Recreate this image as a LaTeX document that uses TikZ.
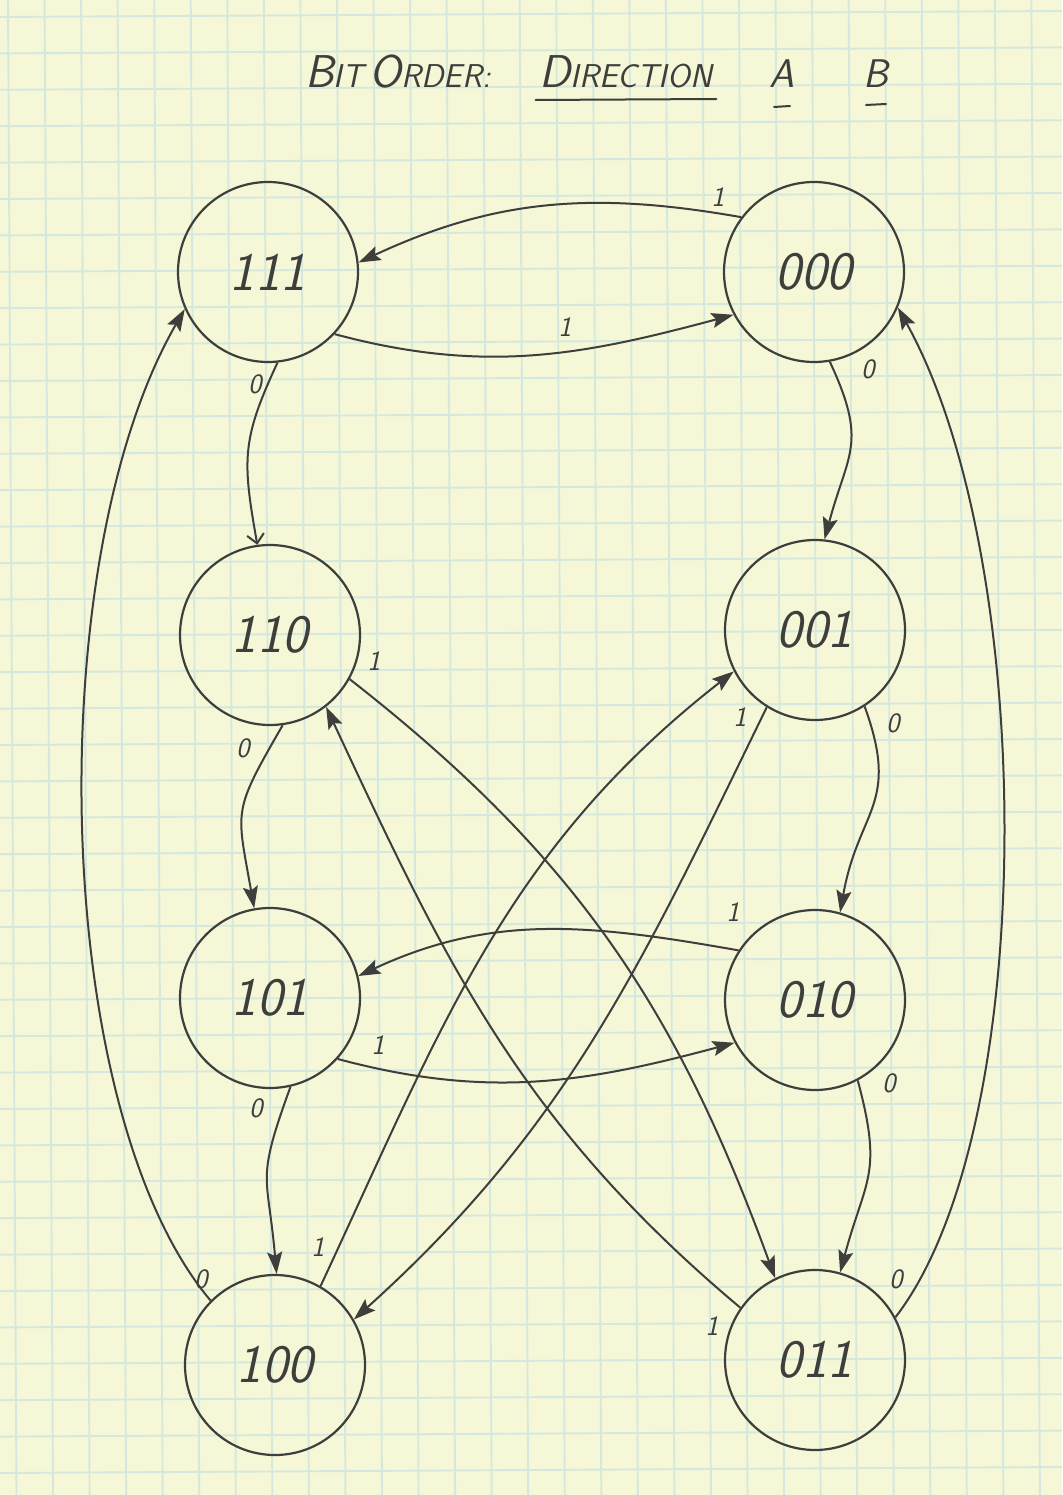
\documentclass[tikz,border=0pt]{standalone}
\usetikzlibrary{arrows.meta}
\definecolor{paper}{RGB}{245,247,214}
\definecolor{gridline}{RGB}{212,232,222}
\definecolor{pencil}{RGB}{62,62,60}
% hand-lettered caps: larger first letter, smaller rest
\newcommand\bigsmall[2]{{\fontsize{46}{46}\selectfont #1}{\fontsize{33}{33}\selectfont #2}}
\begin{document}
\begin{tikzpicture}[x=1pt,y=1pt,
  state/.style={circle,draw=pencil,line width=2.2pt,minimum size=180pt,inner sep=0pt,
    font=\fontsize{54}{54}\selectfont\sffamily\itshape,text=pencil},
  trans/.style={draw=pencil,line width=2pt,-{Stealth[length=22pt,width=15pt,inset=4pt]}},
  opentrans/.style={draw=pencil,line width=2pt,-{Straight Barb[length=9pt,width=17pt]}},
  lbl/.style={font=\fontsize{28}{28}\selectfont\sffamily\itshape,text=pencil,inner sep=0pt},
  ttl/.style={font=\fontsize{33}{33}\selectfont\sffamily\itshape,text=pencil,inner sep=0pt,anchor=base},
  uline/.style={draw=pencil,line width=2pt,line cap=round}]

% paper and grid
\useasboundingbox (0,-1495) rectangle (1062,0);
\fill[paper] (0,-1495) rectangle (1062,0);
\foreach \k in {0,...,29}
  \draw[gridline,line width=1.9pt] ({8+36.55*\k},0) -- ({16.5+36.55*\k},-1495);
\foreach \j in {0,...,41}
  \draw[gridline,line width=1.9pt] (0,{-(17+36.4*\j)}) -- (1062,{-(11+36.4*\j)});

% heading
\node[ttl] (hbit) at (398,-88) {\bigsmall{B}{IT}\hspace{6pt}\bigsmall{O}{RDER}:};
\node[ttl] (hdir) at (626,-88) {\bigsmall{D}{IRECTION}};
\node[ttl,font=\fontsize{40}{40}\selectfont\sffamily\itshape] (ha) at (782,-88) {A};
\node[ttl,font=\fontsize{40}{40}\selectfont\sffamily\itshape] (hb) at (876,-88) {B};
\draw[uline] ([xshift=-4pt,yshift=-12pt]hdir.base west) -- ([xshift=4pt,yshift=-11pt]hdir.base east);
\draw[uline] ([xshift=-8pt,yshift=-19pt]ha.base) -- ([xshift=8pt,yshift=-18pt]ha.base);
\draw[uline] ([xshift=-10pt,yshift=-17pt]hb.base) -- ([xshift=10pt,yshift=-16pt]hb.base);

% states
\node[state] (n111) at (268,-272)  {111};
\node[state] (n000) at (814,-272)  {000};
\node[state] (n110) at (270,-635)  {110};
\node[state] (n001) at (815,-630)  {001};
\node[state] (n101) at (270,-998)  {101};
\node[state] (n010) at (815,-1000) {010};
\node[state] (n100) at (275,-1365) {100};
\node[state] (n011) at (815,-1360) {011};

% transitions between the top pair
\draw[trans] (n000.143) to[out=170,in=25] (n111.6);
\draw[trans] (n111.-43) to[out=-15,in=195] (n000.208);
% left column, input 0
\draw[opentrans] (n111.-84) to[out=-115,in=100,looseness=1.2] (n110.98);
\draw[trans] (n110.-82) to[out=-120,in=100,looseness=1.4] (n101.100);
\draw[trans] (n101.-77) to[out=-110,in=95,looseness=1.4] (n100.89);
% right column, input 0
\draw[trans] (n000.-80) to[out=-65,in=75,looseness=1.3] (n001.84);
\draw[trans] (n001.-57) to[out=-70,in=80,looseness=1.3] (n010.74);
\draw[trans] (n010.-62) to[out=-75,in=75,looseness=1.3] (n011.74);
% outer returns
\draw[trans] (n100.135) .. controls (50,-1110) and (40,-560) .. (n111.204);
\draw[trans] (n011.28) .. controls (1040,-1130) and (1038,-560) .. (n000.-23);
% middle pair
\draw[trans] (n010.147) to[out=170,in=25] (n101.14);
\draw[trans] (n101.-42) to[out=-15,in=195] (n010.208);
% crossing transitions
\draw[trans] (n110.-29) to[out=-38,in=110] (n011.116);
\draw[trans] (n011.145) to[out=140,in=-65] (n110.-52);
\draw[trans] (n100.60) to[out=65,in=218] (n001.207);
\draw[trans] (n001.238) to[out=-116,in=42] (n100.30);

% input labels
\node[lbl] (l1)  at (718,-197)  {1};
\node[lbl] (l2)  at (565,-327)  {1};
\node[lbl] (l3)  at (255,-384)  {0};
\node[lbl] (l4)  at (868,-369)  {0};
\node[lbl] (l5)  at (374,-661)  {1};
\node[lbl] (l6)  at (243,-748)  {0};
\node[lbl] (l7)  at (740,-717)  {1};
\node[lbl] (l8)  at (893,-723)  {0};
\node[lbl] (l9)  at (733,-912)  {1};
\node[lbl] (l10) at (378,-1045) {1};
\node[lbl] (l11) at (256,-1108) {0};
\node[lbl] (l12) at (889,-1083) {0};
\node[lbl] (l13) at (318,-1247) {1};
\node[lbl] (l14) at (201,-1279) {0};
\node[lbl] (l15) at (712,-1326) {1};
\node[lbl] (l16) at (896,-1279) {0};
\end{tikzpicture}
\end{document}
